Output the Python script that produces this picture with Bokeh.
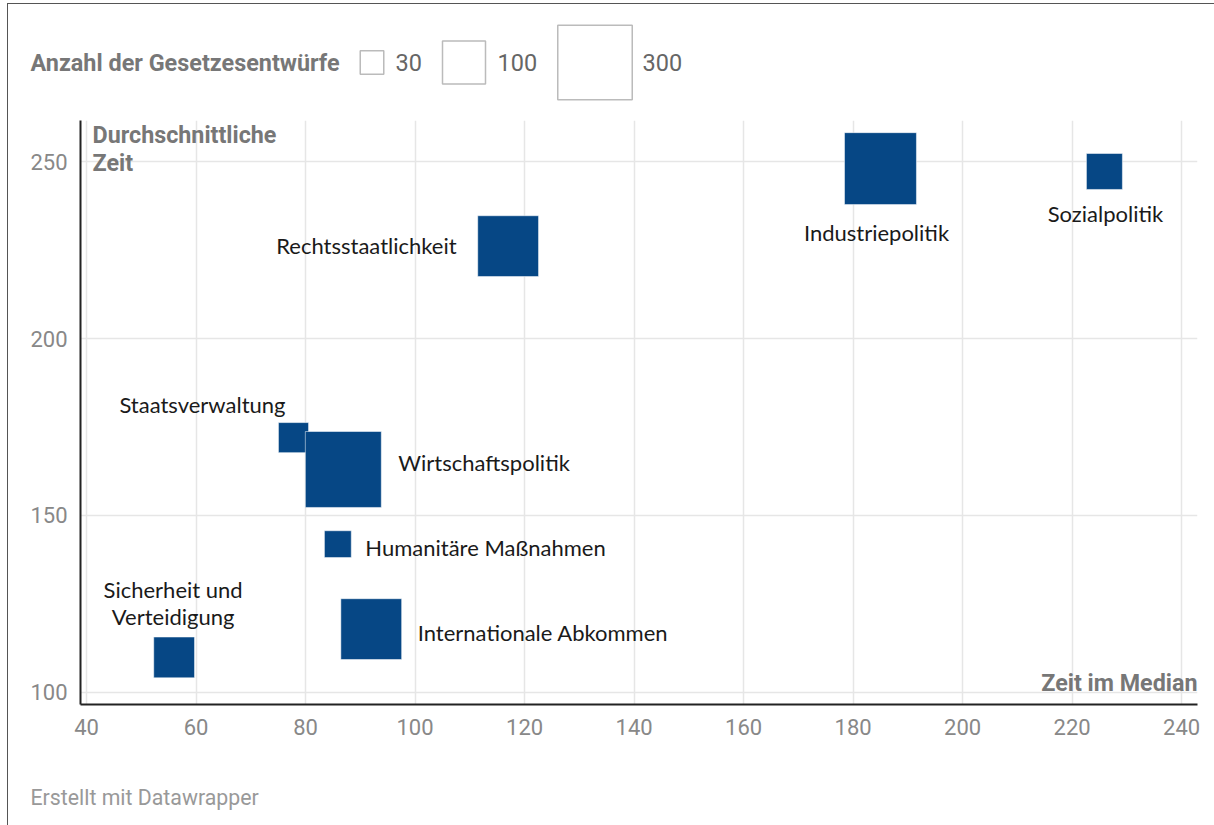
from bokeh.plotting import figure
from bokeh.layouts import column
from bokeh.models import ColumnDataSource, Range1d, Label, FixedTicker
from bokeh.core.properties import value
from bokeh.embed import file_html
from bokeh.resources import INLINE
import math

# ---------------- data ----------------
categories = ["Sicherheit und\nVerteidigung", "Staatsverwaltung", "Wirtschaftspolitik",
              "Humanitäre Maßnahmen", "Internationale Abkommen", "Rechtsstaatlichkeit",
              "Industriepolitik", "Sozialpolitik"]
median_time = [56.0, 77.8, 86.9, 85.9, 92.0, 117.0, 185.0, 225.9]
avg_time = [109.9, 172.0, 163.0, 141.9, 117.9, 226.1, 248.0, 247.2]
n_drafts = [90, 49, 312, 39, 200, 200, 280, 70]
legend_values = [30, 100, 300]
x_ticks = [40, 60, 80, 100, 120, 140, 160, 180, 200, 220, 240]
y_ticks = [100, 150, 200, 250]

# ---------------- styles ----------------
K = 4.3  # px per sqrt(count)
BLUE = "#064785"
label_dx = [-1, -8, 55, 27.5, 46.5, -51.5, -4, 1]
label_dy = [-54, -33.5, -6.5, 3, 3, -1, 63.5, 42]
label_align = ["center", "right", "left", "left", "left", "right", "center", "center"]

W = 1206


def no_align(fig):
    if "frame_align" in fig.properties():
        fig.frame_align = False


# ---------------- legend figure ----------------
leg = figure(width=W, height=112, x_range=Range1d(8, 1214), y_range=Range1d(116, 4),
             x_axis_type=None, y_axis_type=None, output_backend="svg",
             toolbar_location=None, min_border=0)
no_align(leg)
leg.grid.visible = False
leg.outline_line_color = None
leg.background_fill_color = "white"
leg.border_fill_color = "white"

leg.text(x=[30], y=[62], text=["Anzahl der Gesetzesentwürfe"], text_font=value("Roboto"),
         text_font_style="bold", text_font_size="23.4px", text_color="#777777",
         text_align="left", text_baseline="middle")

leg_sizes = [K * math.sqrt(v) for v in legend_values]
leg_sq_x = [371.5, 463.5, 594.5]
leg_txt_x = [395, 497, 642]
leg_src = ColumnDataSource(dict(x=leg_sq_x, y=[62] * 3, s=leg_sizes,
                                tx=leg_txt_x, t=[str(v) for v in legend_values]))
leg.rect(x="x", y="y", width="s", height="s", width_units="screen", height_units="screen",
         source=leg_src, fill_color="white", line_color="#bbbbbb", line_width=1.5)
leg.text(x="tx", y="y", text="t", source=leg_src, text_font=value("Roboto"),
         text_font_size="23.5px", text_color="#666666", text_align="left", text_baseline="middle")

# ---------------- main figure ----------------
x0, x1 = 38.9, 242.9
y0, y1 = 96.6, 261.6
p = figure(width=W, height=656, x_range=Range1d(x0, x1), y_range=Range1d(y0, y1),
           output_backend="svg", toolbar_location=None,
           min_border_left=72, min_border_right=17, min_border_top=4, min_border_bottom=68)
no_align(p)
p.outline_line_color = None
p.background_fill_color = "white"
p.border_fill_color = "white"

for ax, ticks in ((p.xaxis, x_ticks), (p.yaxis, y_ticks)):
    ax.ticker = FixedTicker(ticks=ticks)
    ax.major_tick_in = 0
    ax.major_tick_out = 0
    ax.minor_tick_in = 0
    ax.minor_tick_out = 0
    ax.axis_line_color = "#222222"
    ax.axis_line_width = 2
    ax.major_label_text_font = "Roboto"
    ax.major_label_text_font_size = "22px"
    ax.major_label_text_color = "#888888"
p.xaxis.major_label_standoff = 14
p.yaxis.major_label_standoff = 13

p.xgrid.ticker = FixedTicker(ticks=x_ticks)
p.ygrid.ticker = FixedTicker(ticks=y_ticks)
p.grid.grid_line_color = "#e6e6e6"
p.grid.grid_line_width = 1.5

sizes = [K * math.sqrt(n) for n in n_drafts]
src = ColumnDataSource(dict(x=median_time, y=avg_time, s=sizes, name=categories,
                            dx=label_dx, dy=label_dy, al=label_align))
p.rect(x="x", y="y", width="s", height="s", width_units="screen", height_units="screen",
       source=src, fill_color=BLUE, line_color="white", line_alpha=0.5, line_width=1)
p.text(x="x", y="y", text="name", x_offset="dx", y_offset="dy", text_align="al",
       source=src, text_font=value("Lato"), text_font_size="22px", text_color="#1a1a1a",
       text_baseline="middle", text_line_height=1.0)

p.add_layout(Label(x=x0, y=y1, x_offset=12, y_offset=0, text="Durchschnittliche\nZeit",
                   text_baseline="top", text_align="left", text_font="Roboto",
                   text_font_style="bold", text_font_size="23.3px", text_color="#777777",
                   text_line_height=1.03))
p.add_layout(Label(x=x1, y=y0, y_offset=8, text="Zeit im Median",
                   text_baseline="bottom", text_align="right", text_font="Roboto",
                   text_font_style="bold", text_font_size="23.3px", text_color="#777777"))

# ---------------- footer ----------------
foot = figure(width=W, height=53, x_range=Range1d(8, 1214), y_range=Range1d(825, 772),
              x_axis_type=None, y_axis_type=None, output_backend="svg",
              toolbar_location=None, min_border=0)
no_align(foot)
foot.grid.visible = False
foot.outline_line_color = None
foot.text(x=[30], y=[797], text=["Erstellt mit Datawrapper"], text_font=value("Roboto"),
          text_font_size="21.3px", text_color="#999999", text_align="left", text_baseline="middle")

layout = column(leg, p, foot, margin=(3, 0, 0, 7),
                styles={"border-left": "1px solid #555555", "border-top": "1px solid #555555"})

open("out.html", "w").write(file_html(layout, INLINE))
